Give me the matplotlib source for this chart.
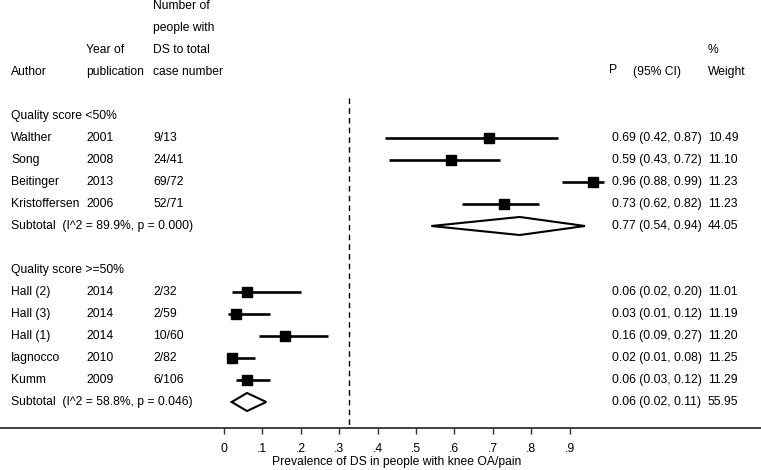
import matplotlib
matplotlib.use("Agg")
import matplotlib.pyplot as plt
from matplotlib.patches import Polygon
import numpy as np

# ---------------- data ----------------
group_titles = ["Quality score <50%", "Quality score >=50%"]

g1_authors = ["Walther", "Song", "Beitinger", "Kristoffersen"]
g1_years = ["2001", "2008", "2013", "2006"]
g1_counts = ["9/13", "24/41", "69/72", "52/71"]
g1_est = [0.69, 0.59, 0.96, 0.73]
g1_lo = [0.42, 0.43, 0.88, 0.62]
g1_hi = [0.87, 0.72, 0.99, 0.82]
g1_wt = [10.49, 11.10, 11.23, 11.23]
g1_sub_label = "Subtotal  (I^2 = 89.9%, p = 0.000)"
g1_sub = [0.77, 0.54, 0.94, 44.05]

g2_authors = ["Hall (2)", "Hall (3)", "Hall (1)", "Iagnocco", "Kumm"]
g2_years = ["2014", "2014", "2014", "2010", "2009"]
g2_counts = ["2/32", "2/59", "10/60", "2/82", "6/106"]
g2_est = [0.06, 0.03, 0.16, 0.02, 0.06]
g2_lo = [0.02, 0.01, 0.09, 0.01, 0.03]
g2_hi = [0.20, 0.12, 0.27, 0.08, 0.12]
g2_wt = [11.01, 11.19, 11.20, 11.25, 11.29]
g2_sub_label = "Subtotal  (I^2 = 58.8%, p = 0.046)"
g2_sub = [0.06, 0.02, 0.11, 55.95]

overall = 0.326

tick_vals = [0, 0.1, 0.2, 0.3, 0.4, 0.5, 0.6, 0.7, 0.8, 0.9]
tick_labels = ["0", ".1", ".2", ".3", ".4", ".5", ".6", ".7", ".8", ".9"]
xlabel = "Prevalence of DS in people with knee OA/pain"

# ---------------- layout ----------------
W, H = 761, 470
ZERO_PX, UNIT_PX = 224.0, 384.0   # pixel of x=0, pixels per unit
ROW_PX, ROW0_PX = 22.0, 6.0

def px2x(px):
    return (px - ZERO_PX) / UNIT_PX

plt.rcParams['font.family'] = ['Liberation Sans', 'DejaVu Sans']
FS = 8.7

fig = plt.figure(figsize=(W / 100, H / 100), dpi=100)
ax = fig.add_axes([0, 0, 1, 1])
ax.set_xlim(px2x(0), px2x(W))
ax.set_ylim((H - ROW0_PX) / ROW_PX, -ROW0_PX / ROW_PX)

COL_AUTH, COL_YEAR, COL_N, COL_EST, COL_W = 11, 86, 153, 612, 708

def txt(px, row, s, **kw):
    ax.text(px2x(px), row, s, fontsize=FS, va='center', ha='left', color='black', **kw)

# headers
txt(COL_N, 0, "Number of")
txt(COL_N, 1, "people with")
txt(COL_YEAR, 2, "Year of")
txt(COL_N, 2, "DS to total")
txt(COL_AUTH, 3, "Author")
txt(COL_YEAR, 3, "publication")
txt(COL_N, 3, "case number")
txt(609, 2.9, "P")
txt(633, 3, "(95% CI)")
txt(COL_W, 2, "%")
txt(COL_W, 3, "Weight")

def fmt(e, l, h):
    return f"{e:.2f} ({l:.2f}, {h:.2f})"

def draw_group(start_row, title, authors, years, counts, est, lo, hi, wt, sub_label, sub):
    txt(COL_AUTH, start_row, title)
    r = start_row + 1
    for a, y, c, e, l, h, w in zip(authors, years, counts, est, lo, hi, wt):
        txt(COL_AUTH, r, a)
        txt(COL_YEAR, r, y)
        txt(COL_N, r, c)
        ax.plot([l, h], [r, r], color='black', lw=1.9, solid_capstyle='butt')
        ax.plot([e], [r], marker='s', ms=6.8 * (w / 11.2) ** 0.25, color='black', mec='black')
        txt(COL_EST, r, fmt(e, l, h))
        txt(COL_W, r, f"{w:.2f}")
        r += 1
    e, l, h, w = sub
    txt(COL_AUTH, r, sub_label)
    dh = 0.41
    ax.add_patch(Polygon([[l, r], [e, r - dh], [h, r], [e, r + dh]], closed=True,
                         fill=False, edgecolor='black', lw=1.5, joinstyle='miter'))
    txt(COL_EST, r, fmt(e, l, h))
    txt(COL_W, r, f"{w:.2f}")
    return r

end1 = draw_group(5, group_titles[0], g1_authors, g1_years, g1_counts, g1_est, g1_lo, g1_hi,
                  g1_wt, g1_sub_label, g1_sub)
end2 = draw_group(end1 + 2, group_titles[1], g2_authors, g2_years, g2_counts, g2_est, g2_lo,
                  g2_hi, g2_wt, g2_sub_label, g2_sub)

axis_row = (428 - ROW0_PX) / ROW_PX
ax.plot([overall, overall], [(98 - ROW0_PX) / ROW_PX, axis_row], color='black', lw=1.0,
        dashes=(4, 3))

# x axis
for s in ['top', 'left', 'right']:
    ax.spines[s].set_visible(False)
ax.spines['bottom'].set_position(('data', axis_row))
ax.spines['bottom'].set_color('#303030')
ax.spines['bottom'].set_linewidth(1.3)
ax.set_yticks([])
ax.set_xticks(tick_vals)
ax.set_xticklabels(tick_labels)
ax.tick_params(axis='x', direction='out', length=4.5, width=1.0, color='#303030',
               labelsize=FS, pad=6)
ax.text(0.45, (462 - ROW0_PX) / ROW_PX, xlabel, fontsize=FS, ha='center', va='center')

fig.savefig("out.png", dpi=100)
